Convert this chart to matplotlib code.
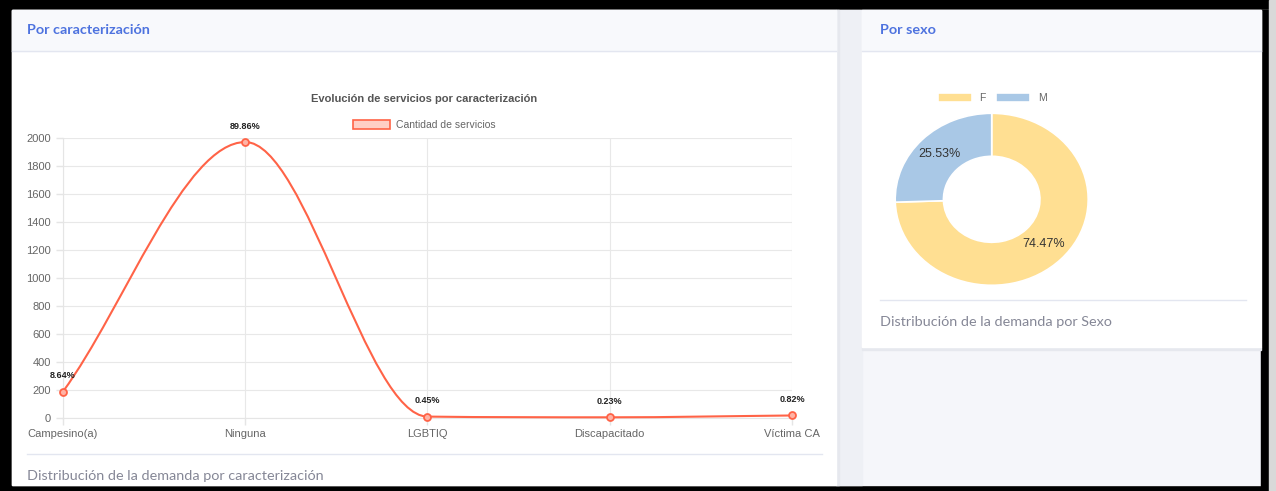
import numpy as np
import matplotlib.pyplot as plt
from matplotlib.patches import Rectangle, Patch
from matplotlib.path import Path
from matplotlib.patches import PathPatch

# Data
categorias = ['Campesino(a)', 'Ninguna', 'LGBTIQ', 'Discapacitado', 'Víctima CA']
servicios = [189, 1971, 10, 5, 18]
pct_labels = ['8.64%', '89.86%', '0.45%', '0.23%', '0.82%']
sexo = ['F', 'M']
sexo_pct = [74.47, 25.53]
y_ticks = list(range(0, 2001, 200))

W, H = 1276, 491
LINE = '#ff6347'
BLUE = '#4e73df'
GREY_TXT = '#858796'

plt.rcParams['font.family'] = ['Liberation Sans', 'DejaVu Sans']

fig = plt.figure(figsize=(W / 100, H / 100), dpi=100, facecolor='black')


def px_axes(x0, y0, x1, y1, **kw):
    return fig.add_axes([x0 / W, 1 - y1 / H, (x1 - x0) / W, (y1 - y0) / H], **kw)


# background / cards in pixel coordinates
bg = fig.add_axes([0, 0, 1, 1])
bg.set_xlim(0, W)
bg.set_ylim(H, 0)
bg.axis('off')
bg.add_patch(Rectangle((12, 10), 1257, 475, color='#f5f6fa'))
bg.add_patch(Rectangle((1261, 10), 8, 481, color='black'))
bg.add_patch(Rectangle((1269, 0), 7, 491, color='#d9d9d9'))
bg.add_patch(Rectangle((836, 10), 26, 475, color='#eef0f5'))
bg.add_patch(Rectangle((836, 10), 3, 475, color='#e6e8ee'))
# left card
bg.add_patch(Rectangle((12, 10), 824, 475, color='white'))
bg.add_patch(Rectangle((12, 10), 824, 41, color='#f8f9fc'))
bg.plot([12, 836], [51, 51], color='#e3e6f0', lw=1)
bg.text(27, 30, 'Por caracterización', color=BLUE, fontsize=10.4,
        fontweight='bold', family='Lato', va='center')
bg.plot([27, 822], [454, 454], color='#e3e6f0', lw=1)
bg.text(27, 476, 'Distribución de la demanda por caracterización',
        color=GREY_TXT, fontsize=10.4, family='Lato', va='center')
# right card
bg.add_patch(Rectangle((862, 347), 399, 3, color='#e6e8ee'))
bg.add_patch(Rectangle((862, 10), 399, 337, color='white'))
bg.add_patch(Rectangle((862, 10), 399, 41, color='#f8f9fc'))
bg.plot([862, 1261], [51, 51], color='#e3e6f0', lw=1)
bg.text(880, 30, 'Por sexo', color=BLUE, fontsize=10.4,
        fontweight='bold', family='Lato', va='center')
bg.plot([880, 1246], [300, 300], color='#e3e6f0', lw=1)
bg.text(880, 322, 'Distribución de la demanda por Sexo',
        color=GREY_TXT, fontsize=10.4, family='Lato', va='center')
bg.text(424, 99, 'Evolución de servicios por caracterización', color='#555555',
        fontsize=8, fontweight='bold', ha='center', va='center')

# line chart
ax = px_axes(63, 138, 792, 418)
x = np.arange(len(servicios))
y = np.array(servicios, dtype=float)

# monotone cubic (as Chart.js) drawn as bezier segments
d = np.diff(y)
m = np.zeros(len(y))
m[0], m[-1] = d[0], d[-1]
for i in range(1, len(y) - 1):
    if d[i - 1] * d[i] > 0:
        m[i] = (d[i - 1] + d[i]) / 2
for i in range(len(d)):
    if d[i] == 0:
        m[i] = m[i + 1] = 0
        continue
    a, b = m[i] / d[i], m[i + 1] / d[i]
    s = a * a + b * b
    if s > 9:
        t = 3 / np.sqrt(s)
        m[i], m[i + 1] = a * t * d[i], b * t * d[i]
verts = [(x[0], y[0])]
codes = [Path.MOVETO]
for i in range(len(d)):
    dx = (x[i + 1] - x[i]) / 3
    verts += [(x[i] + dx, y[i] + m[i] * dx),
              (x[i + 1] - dx, y[i + 1] - m[i + 1] * dx),
              (x[i + 1], y[i + 1])]
    codes += [Path.CURVE4] * 3
ax.add_patch(PathPatch(Path(verts, codes), fill=False, edgecolor=LINE,
                       lw=1.5, zorder=3, clip_on=False))
ax.plot(x, y, 'o', ms=5, mfc='#ffb3a5', mec=LINE, mew=1.3, zorder=4,
        clip_on=False)
for xi, yi, lab in zip(x, y, pct_labels):
    ax.annotate(lab, (xi, yi), xytext=(0, 8), textcoords='offset points',
                ha='center', va='bottom', fontsize=6.5, fontweight='bold',
                color='#222222')

ax.set_xlim(0, len(x) - 1)
ax.set_ylim(0, 2000)
ax.set_yticks(y_ticks)
ax.set_xticks(x)
ax.set_xticklabels(categorias)
ax.tick_params(colors='#e5e5e5', labelcolor='#666666', labelsize=8,
               length=5, width=1)
ax.tick_params(axis='x', pad=3)
ax.grid(color='#e8e8e8', lw=0.8)
ax.set_axisbelow(True)
for sp in ax.spines.values():
    sp.set_color('#e5e5e5')
ax.spines['top'].set_visible(False)
ax.spines['right'].set_visible(False)
ax.set_facecolor('none')

leg_h = [Patch(facecolor='#ffcfc6', edgecolor=LINE, lw=1.2)]
fig.legend(leg_h, ['Cantidad de servicios'], loc='center',
           bbox_to_anchor=(424 / W, 1 - 125 / H), frameon=False,
           fontsize=7.5, handlelength=3.6, handleheight=0.9,
           handletextpad=0.5, labelcolor='#666666')

# donut
cx, cy, rx, ry = 991.7, 199.3, 96.5, 86
pax = px_axes(cx - rx, cy - ry, cx + rx, cy + ry)
wedges, _, autot = pax.pie(sexo_pct, colors=['#ffdf92', '#a9c8e6'],
                           startangle=90, counterclock=False, radius=1,
                           autopct='%.2f%%', pctdistance=0.75,
                           wedgeprops=dict(width=0.5, edgecolor='white', lw=1.2),
                           textprops=dict(fontsize=9, color='#333333'))
pax.set_aspect('auto')
pax.set_xlim(-1, 1)
pax.set_ylim(-1, 1)
fig.legend(wedges, sexo, loc='center', bbox_to_anchor=(992 / W, 1 - 98 / H),
           ncol=2, frameon=False, fontsize=7.5, handlelength=3.3,
           handleheight=1.0, handletextpad=0.7, columnspacing=1.0,
           labelcolor='#666666')

fig.savefig('out.png', dpi=100, facecolor=fig.get_facecolor())
